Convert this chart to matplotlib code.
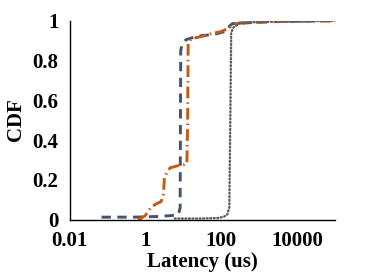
import matplotlib
matplotlib.use('Agg')
import matplotlib.pyplot as plt

# values (latency in us, cdf)
blue_x = [0.07, 0.5, 2, 5, 7.5, 8.3, 8.6, 9.5, 12, 20, 30, 60, 100, 145, 170, 200, 550, 2000, 100000]
blue_y = [0.012, 0.012, 0.015, 0.02, 0.025, 0.06, 0.85, 0.885, 0.905, 0.918, 0.925, 0.93, 0.94, 0.95, 0.975, 0.985, 0.99, 0.995, 1.0]

orange_x = [0.63, 0.75, 1.0, 1.44, 2.0, 2.6, 3.0, 3.2, 4.5, 7.0, 10, 12.5, 13.1, 13.5, 16.5, 30, 58, 100, 163, 220, 300, 2000, 100000]
orange_y = [0.0, 0.005, 0.02, 0.064, 0.08, 0.09, 0.12, 0.215, 0.26, 0.27, 0.274, 0.28, 0.5, 0.887, 0.91, 0.92, 0.936, 0.945, 0.964, 0.98, 0.989, 0.995, 1.0]

grey_x = [6, 30, 88, 120, 145, 165, 175, 185, 210, 300, 600, 3000, 100000]
grey_y = [0.005, 0.005, 0.008, 0.015, 0.025, 0.06, 0.5, 0.94, 0.965, 0.985, 0.992, 0.996, 1.0]

plt.rcParams['font.family'] = ['Liberation Serif', 'DejaVu Serif']
plt.rcParams['font.weight'] = 'bold'
plt.rcParams['font.size'] = 15

fig, ax = plt.subplots(figsize=(3.74, 2.8), dpi=100)
fig.subplots_adjust(left=0.186, right=0.895, top=0.926, bottom=0.216)

ax.plot(blue_x, blue_y, color='#44546A', lw=2.1, dashes=(3.2, 2.2))
ax.plot(orange_x, orange_y, color='#C55A11', lw=2.1, dashes=(4.0, 1.4, 0.5, 1.4))
ax.plot(grey_x, grey_y, color='#5F5F5F', lw=1.7, dashes=(0.4, 1.1), dash_capstyle='round')

ax.set_xscale('log')
ax.set_xlim(0.01, 100000)
ax.set_ylim(0, 1)
ax.set_xticks([0.01, 1, 100, 10000])
ax.set_xticklabels(['0.01', '1', '100', '10000'])
ax.set_yticks([0, 0.2, 0.4, 0.6, 0.8, 1])
ax.set_yticklabels(['0', '0.2', '0.4', '0.6', '0.8', '1'])
ax.minorticks_off()
ax.tick_params(length=0, pad=8)
ax.spines['top'].set_visible(False)
ax.spines['right'].set_visible(False)
ax.spines['left'].set_linewidth(1.0)
ax.spines['bottom'].set_linewidth(1.0)
ax.set_xlabel('Latency (us)', fontweight='bold', labelpad=1)
ax.set_ylabel('CDF', fontweight='bold', labelpad=5)

fig.savefig('out.png', dpi=100)
